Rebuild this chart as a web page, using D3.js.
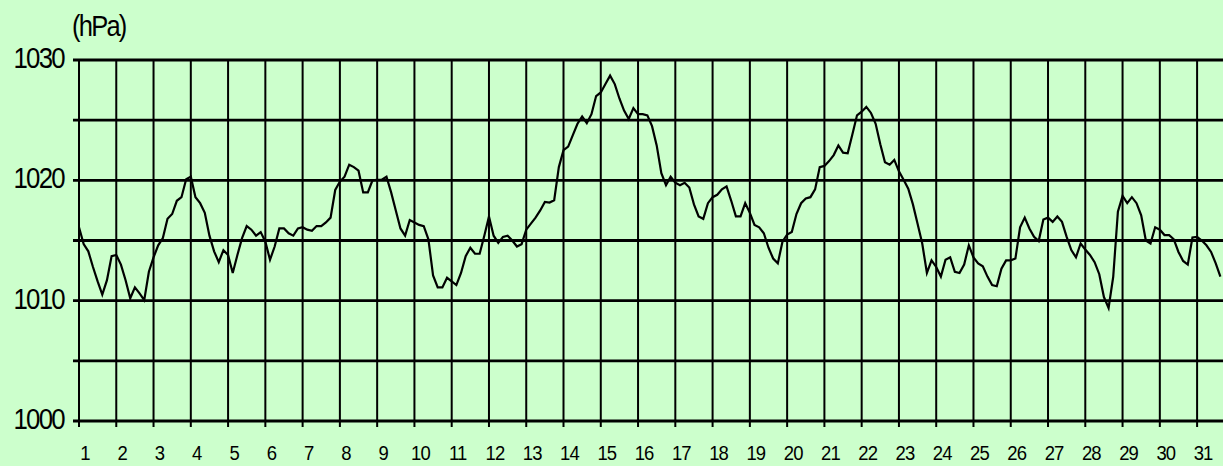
<!DOCTYPE html>
<html>
<head>
<meta charset="utf-8">
<script src="https://d3js.org/d3.v7.min.js"></script>
<style>
  html, body { margin: 0; padding: 0; background: #ccffcc; overflow: hidden; }
  .chart text { font-family: "Liberation Sans", Arial, sans-serif; fill: #000; }
</style>
</head>
<body>
<div class="chart"></div>
<script>
// 3-hourly sea level pressure (hPa), 8 readings per day
var pressure = [
  1016.1, 1014.7, 1014.1, 1012.8, 1011.6, 1010.5, 1011.7, 1013.7,
  1013.8, 1013.0, 1011.7, 1010.2, 1011.1, 1010.6, 1010.05, 1012.4,
  1013.6, 1014.6, 1015.2, 1016.8, 1017.2, 1018.3, 1018.6, 1020.1,
  1020.3, 1018.6, 1018.1, 1017.3, 1015.4, 1014.1, 1013.2, 1014.2,
  1013.8, 1012.3, 1013.8, 1015.2, 1016.2, 1015.9, 1015.4, 1015.7,
  1014.9, 1013.4, 1014.5, 1016.0, 1016.0, 1015.6, 1015.4, 1016.0,
  1016.1, 1015.9, 1015.8, 1016.2, 1016.2, 1016.5, 1016.9, 1019.2,
  1019.9, 1020.3, 1021.3, 1021.1, 1020.8, 1019.0, 1019.0, 1020.0,
  1020.05, 1020.05, 1020.3, 1019.0, 1017.5, 1016.0, 1015.4, 1016.7,
  1016.5, 1016.3, 1016.2, 1015.1, 1012.1, 1011.1, 1011.1, 1011.9,
  1011.6, 1011.3, 1012.3, 1013.7, 1014.4, 1013.9, 1013.9, 1015.4,
  1017.0, 1015.4, 1014.8, 1015.3, 1015.4, 1015.0, 1014.5, 1014.7,
  1015.9, 1016.4, 1016.9, 1017.5, 1018.2, 1018.15, 1018.35, 1021.1,
  1022.5, 1022.8, 1023.75, 1024.7, 1025.3, 1024.75, 1025.5, 1027.0,
  1027.3, 1028.0, 1028.7, 1028.0, 1026.8, 1025.8, 1025.1, 1026.0,
  1025.5, 1025.5, 1025.4, 1024.5, 1022.9, 1020.6, 1019.6, 1020.3,
  1019.8, 1019.6, 1019.8, 1019.4, 1018.0, 1017.0, 1016.8, 1018.1,
  1018.6, 1018.8, 1019.25, 1019.5, 1018.3, 1017.0, 1017.0, 1018.1,
  1017.3, 1016.3, 1016.1, 1015.6, 1014.4, 1013.5, 1013.1, 1014.9,
  1015.5, 1015.7, 1017.2, 1018.1, 1018.5, 1018.6, 1019.25, 1021.1,
  1021.2, 1021.6, 1022.1, 1022.9, 1022.3, 1022.25, 1023.8, 1025.4,
  1025.7, 1026.1, 1025.6, 1024.7, 1023.0, 1021.5, 1021.3, 1021.7,
  1020.75, 1020.05, 1019.3, 1018.0, 1016.4, 1014.75, 1012.3, 1013.35,
  1012.8, 1012.0, 1013.4, 1013.6, 1012.4, 1012.3, 1013.0, 1014.6,
  1013.6, 1013.1, 1012.85, 1012.0, 1011.3, 1011.2, 1012.65, 1013.35,
  1013.35, 1013.5, 1016.1, 1016.9, 1016.0, 1015.3, 1014.95, 1016.75,
  1016.9, 1016.55, 1017.0, 1016.55, 1015.3, 1014.2, 1013.6, 1014.75,
  1014.25, 1013.8, 1013.2, 1012.2, 1010.3, 1009.4, 1012.0, 1017.4,
  1018.7, 1018.1, 1018.6, 1018.1, 1017.1, 1015.0, 1014.75, 1016.1,
  1015.9, 1015.45, 1015.45, 1015.1, 1014.05, 1013.3, 1013.0, 1015.25,
  1015.3, 1015.0, 1014.6, 1014.05, 1013.1, 1012.0
];
var perDay = 8;

var days = d3.range(1, 32);                 // 1 .. 31
var gridLevels = [1000, 1005, 1010, 1015, 1020, 1025, 1030];
var labelLevels = [1000, 1010, 1020, 1030];
var unitLabel = "(hPa)";

var W = 1223, H = 466;
var plotLeft = 79, plotTop = 60, plotBottom = 421, dayWidth = 37.27;

var svg = d3.select('.chart')
  .append('svg')
    .attr('width', W)
    .attr('height', H);

svg.append('rect')
  .attr('width', W).attr('height', H)
  .attr('fill', '#ccffcc');

var xScale = d3.scaleLinear()
  .domain([0, days.length])
  .range([plotLeft, plotLeft + days.length * dayWidth]);

var yScale = d3.scaleLinear()
  .domain([1000, 1030])
  .range([plotBottom, plotTop]);

// horizontal grid lines, every 5 hPa
svg.append('g')
  .selectAll('line')
  .data(gridLevels)
  .enter()
  .append('line')
    .attr('x1', plotLeft - 6)
    .attr('x2', W)
    .attr('y1', d => yScale(d))
    .attr('y2', d => yScale(d))
    .attr('stroke', '#000')
    .attr('stroke-width', 2.8);

// vertical lines at the start of each day, with a tick below the axis
svg.append('g')
  .selectAll('line')
  .data(days)
  .enter()
  .append('line')
    .attr('x1', d => xScale(d - 1))
    .attr('x2', d => xScale(d - 1))
    .attr('y1', plotTop)
    .attr('y2', plotBottom + 6)
    .attr('stroke', '#000')
    .attr('stroke-width', 2);

// y labels (text squeezed sideways like the original)
svg.append('g')
  .selectAll('text')
  .data(labelLevels)
  .enter()
  .append('text')
    .attr('transform', d => `translate(64, ${yScale(d) + 8}) scale(0.86, 1)`)
    .attr('text-anchor', 'end')
    .style('font-size', '30px')
    .style('letter-spacing', '-2px')
    .text(d => d);

// day labels
svg.append('g')
  .selectAll('text')
  .data(days)
  .enter()
  .append('text')
    .attr('transform', d => `translate(${xScale(d - 1) + 6}, 460) scale(0.88, 1)`)
    .attr('text-anchor', 'middle')
    .style('font-size', '21px')
    .style('letter-spacing', '-1px')
    .text(d => d);

svg.append('text')
  .attr('transform', 'translate(72, 36) scale(0.88, 1)')
  .style('font-size', '29px')
  .style('letter-spacing', '-2px')
  .text(unitLabel);

var line = d3.line()
  .x((d, i) => xScale(i / perDay))
  .y(d => yScale(d));

svg.append('path')
  .datum(pressure)
  .attr('d', line)
  .attr('fill', 'none')
  .attr('stroke', '#000')
  .attr('stroke-width', 2.2)
  .attr('stroke-linejoin', 'miter');
</script>
</body>
</html>
